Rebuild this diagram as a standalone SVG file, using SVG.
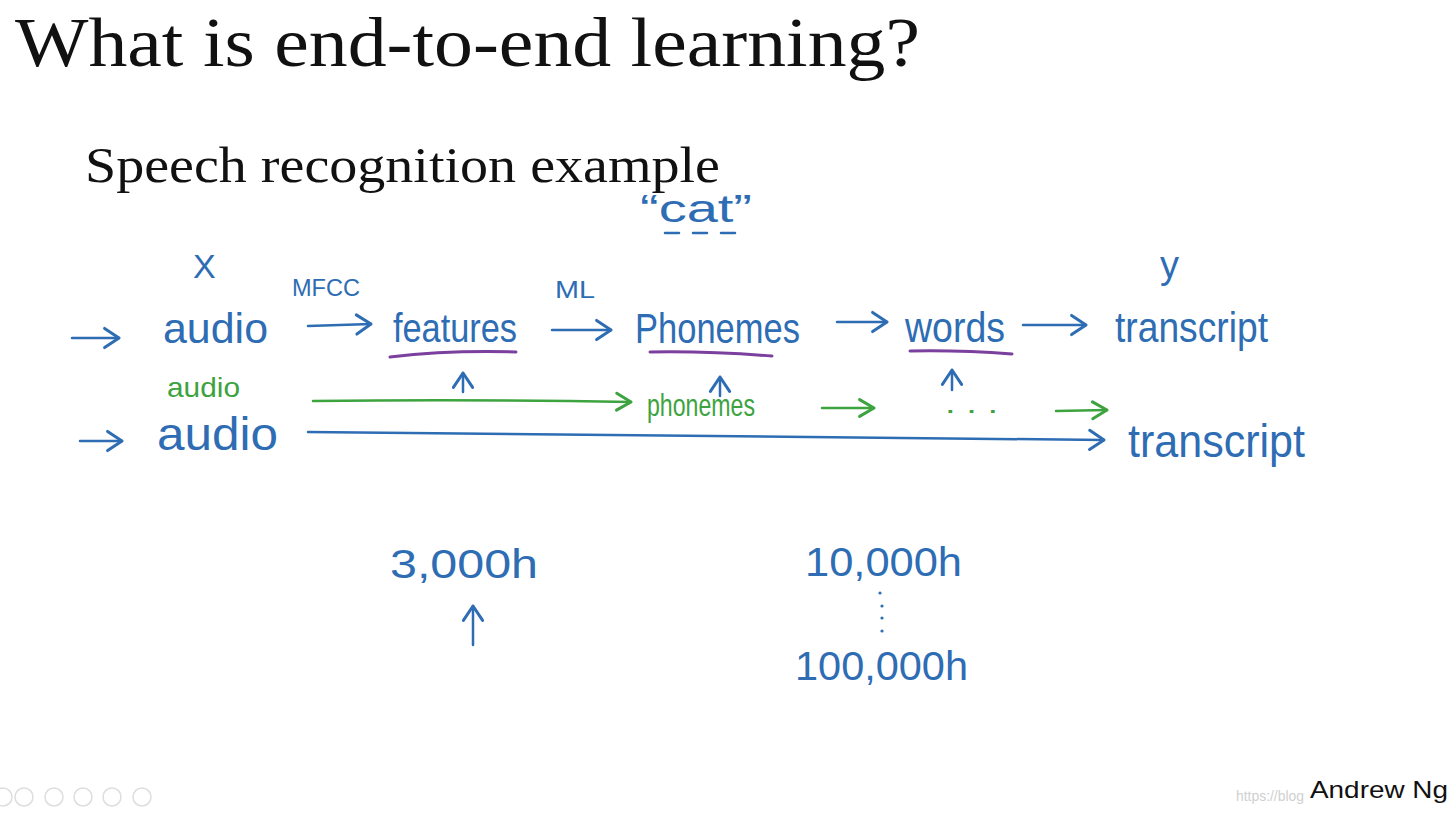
<svg xmlns="http://www.w3.org/2000/svg" width="1456" height="813" viewBox="0 0 1456 813">
<style>
.title{font-family:"Liberation Serif","Times New Roman",serif;fill:#111}
.hw{font-family:"Liberation Sans","DejaVu Sans",sans-serif;font-weight:normal}
.b{fill:#2e6db4}
.g{fill:#3da33f}
.line{fill:none;stroke-linecap:round;stroke-linejoin:round;stroke-width:2.5}
.bl{stroke:#2e6db4}
.gl{stroke:#3da33f}
.pu{fill:none;stroke:#7b3f9e;stroke-width:3;stroke-linecap:round}
</style>
<defs>
<marker id="hb" markerUnits="userSpaceOnUse" markerWidth="24" markerHeight="24" refX="0" refY="0" viewBox="-14 -10 18 20" orient="auto" overflow="visible">
<path d="M-12,-8 L0,0 L-12,8" fill="none" stroke="#2e6db4" stroke-width="2.5" stroke-linecap="round" stroke-linejoin="round"/>
</marker>
<marker id="hg" markerUnits="userSpaceOnUse" markerWidth="24" markerHeight="24" refX="0" refY="0" viewBox="-14 -10 18 20" orient="auto" overflow="visible">
<path d="M-12,-7 L0,0 L-12,7" fill="none" stroke="#3da33f" stroke-width="2.5" stroke-linecap="round" stroke-linejoin="round"/>
</marker>
</defs>
<rect width="1456" height="813" fill="#ffffff"/>

<g id="title">
<text class="title" x="15" y="66" font-size="70" textLength="905" lengthAdjust="spacingAndGlyphs">What is end-to-end learning?</text>
<text class="title" x="85" y="182" font-size="50" textLength="635" lengthAdjust="spacingAndGlyphs">Speech recognition example</text>
</g>

<g id="labels">
<text class="hw b" x="193" y="278" font-size="34">X</text>
<text class="hw b" x="292" y="296" font-size="24" textLength="68" lengthAdjust="spacingAndGlyphs">MFCC</text>
<text class="hw b" x="555" y="298" font-size="24" textLength="40" lengthAdjust="spacingAndGlyphs">ML</text>
<text class="hw b" x="1160" y="278" font-size="38">y</text>
<text class="hw b" x="640" y="222" font-size="38" textLength="112" lengthAdjust="spacingAndGlyphs">“cat”</text>
<path d="M665 233 L735 233" class="line bl" stroke-dasharray="14 14" stroke-dashoffset="0"/>
</g>

<g id="node-audio1"><text class="hw b" x="163" y="343" font-size="42" textLength="105" lengthAdjust="spacingAndGlyphs">audio</text></g>
<g id="node-features"><text class="hw b" x="393" y="342" font-size="40" textLength="124" lengthAdjust="spacingAndGlyphs">features</text>
<path class="pu" d="M390 357 Q450 350 516 352"/></g>
<g id="node-phonemes"><text class="hw b" x="635" y="343" font-size="42" textLength="165" lengthAdjust="spacingAndGlyphs">Phonemes</text>
<path class="pu" d="M650 352 Q710 351 772 356"/></g>
<g id="node-words"><text class="hw b" x="905" y="342" font-size="42" textLength="100" lengthAdjust="spacingAndGlyphs">words</text>
<path class="pu" d="M910 351 Q960 350 1012 354"/></g>
<g id="node-transcript1"><text class="hw b" x="1115" y="342" font-size="42" textLength="153" lengthAdjust="spacingAndGlyphs">transcript</text></g>

<g id="node-audio-green"><text class="hw g" x="167" y="397" font-size="28" textLength="73" lengthAdjust="spacingAndGlyphs">audio</text></g>
<g id="node-phonemes-green"><text class="hw g" x="647" y="416" font-size="32" textLength="108" lengthAdjust="spacingAndGlyphs">phonemes</text></g>
<g id="node-dots-green"><text class="hw g" x="945" y="413" font-size="28" textLength="53" lengthAdjust="spacingAndGlyphs">. . .</text></g>

<g id="node-audio2"><text class="hw b" x="157" y="450" font-size="46" textLength="121" lengthAdjust="spacingAndGlyphs">audio</text></g>
<g id="node-transcript2"><text class="hw b" x="1128" y="457" font-size="46" textLength="177" lengthAdjust="spacingAndGlyphs">transcript</text></g>

<g id="node-3000h"><text class="hw b" x="390" y="578" font-size="40" textLength="148" lengthAdjust="spacingAndGlyphs">3,000h</text></g>
<g id="node-10000h"><text class="hw b" x="805" y="576" font-size="40" textLength="157" lengthAdjust="spacingAndGlyphs">10,000h</text></g>
<g id="node-vdots" fill="#2e6db4">
<circle cx="880" cy="593" r="1.6"/><circle cx="882" cy="606" r="1.6"/><circle cx="882" cy="618" r="1.6"/><circle cx="882" cy="631" r="1.6"/>
</g>
<g id="node-100000h"><text class="hw b" x="795" y="680" font-size="40" textLength="173" lengthAdjust="spacingAndGlyphs">100,000h</text></g>

<g id="connectors">
<path class="line bl" d="M72 338 L119 338" marker-end="url(#hb)"/>
<path class="line bl" d="M308 326 L371 324" marker-end="url(#hb)"/>
<path class="line bl" d="M552 330 L611 330" marker-end="url(#hb)"/>
<path class="line bl" d="M837 322 L887 322" marker-end="url(#hb)"/>
<path class="line bl" d="M1023 325 L1086 325" marker-end="url(#hb)"/>
<path class="line bl" d="M463 392 L463 373" marker-end="url(#hb)"/>
<path class="line bl" d="M720 396 L720 377" marker-end="url(#hb)"/>
<path class="line bl" d="M952 390 L952 370" marker-end="url(#hb)"/>
<path class="line bl" d="M473 645 L473 606" marker-end="url(#hb)"/>
<path class="line gl" d="M313 401 Q470 399 631 402" marker-end="url(#hg)"/>
<path class="line gl" d="M822 408 L874 408" marker-end="url(#hg)"/>
<path class="line gl" d="M1056 411 L1107 410" marker-end="url(#hg)"/>
<path class="line bl" d="M80 441 L122 441" marker-end="url(#hb)"/>
<path class="line bl" d="M308 432 Q700 436 1104 440" marker-end="url(#hb)"/>
</g>

<g id="footer">
<g fill="none" stroke="#dddddd" stroke-width="1.5">
<circle cx="3" cy="797" r="9"/><circle cx="24" cy="797" r="9"/><circle cx="54" cy="797" r="9"/><circle cx="83" cy="797" r="9"/><circle cx="112" cy="797" r="9"/><circle cx="142" cy="797" r="9"/>
</g>
<text x="1236" y="801" font-family="Liberation Sans,sans-serif" font-size="14" fill="#d0d0d0" textLength="68" lengthAdjust="spacingAndGlyphs">https://blog</text>
<text x="1310" y="798" font-family="Liberation Sans,sans-serif" font-size="24" fill="#111" textLength="138" lengthAdjust="spacingAndGlyphs">Andrew Ng</text>
</g>
</svg>
